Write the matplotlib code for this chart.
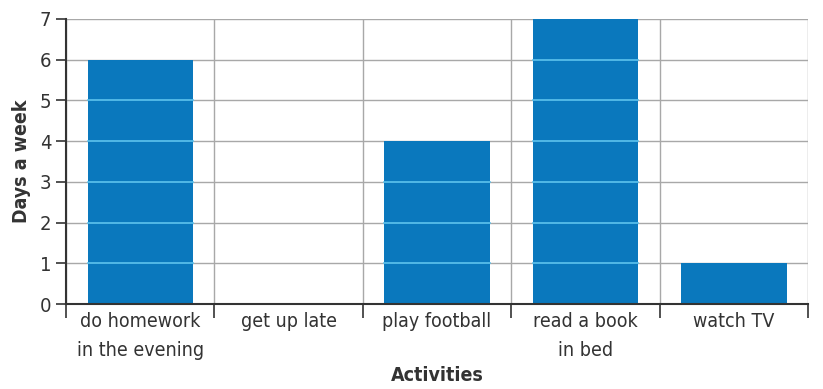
import matplotlib
matplotlib.use('Agg')
import matplotlib.pyplot as plt
import numpy as np

plt.rcParams['font.family'] = ['DejaVu Sans']
plt.rcParams['font.stretch'] = 'condensed'

activities = ['do homework\nin the evening', 'get up late', 'play football', 'read a book\nin bed', 'watch TV']
days = [6, 0, 4, 7, 1]

bar_color = '#0a78bd'
grid_color = '#a8a8a8'
grid_on_bar = '#5ec3ee'

fig = plt.figure(figsize=(8.23, 3.89), dpi=100)
ax = fig.add_axes([0.0802, 0.2185, 0.9016, 0.7327])

centers = np.arange(len(activities)) + 0.5
bars = ax.bar(centers, days, width=0.71, color=bar_color, zorder=2)

# light grid lines showing through the bars
for b, d in zip(bars, days):
    for y in range(1, int(d)):
        ax.plot([b.get_x(), b.get_x() + b.get_width()], [y, y], color=grid_on_bar, lw=1.2, zorder=3)

ax.set_xlim(0, len(activities))
ax.set_ylim(0, 7)
ax.set_xticks(np.arange(len(activities) + 1))
ax.set_xticklabels([])
ax.set_xticks(centers, minor=True)
ax.set_xticklabels(activities, minor=True, fontsize=14, color='#333333', linespacing=1.65)
ax.tick_params(axis='x', which='major', length=10, width=1.2, direction='out', color='#333333')
ax.tick_params(axis='x', which='minor', length=0, pad=6)
ax.set_yticks(range(0, 8))
ax.tick_params(axis='y', length=7, width=1.2, labelsize=14.5, color='#333333', labelcolor='#333333')

ax.grid(True, which='major', color=grid_color, lw=1.0, zorder=0)
ax.set_axisbelow(True)

for s in ['top', 'right']:
    ax.spines[s].set_visible(False)
ax.spines['left'].set_linewidth(1.5)
ax.spines['bottom'].set_linewidth(1.5)
ax.spines['left'].set_color('#333333')
ax.spines['bottom'].set_color('#333333')

ax.set_xlabel('Activities', fontsize=14, fontweight='bold', color='#333333', labelpad=4)
ax.set_ylabel('Days a week', fontsize=14, fontweight='bold', color='#333333', labelpad=6)

fig.savefig('out.png', dpi=100)
